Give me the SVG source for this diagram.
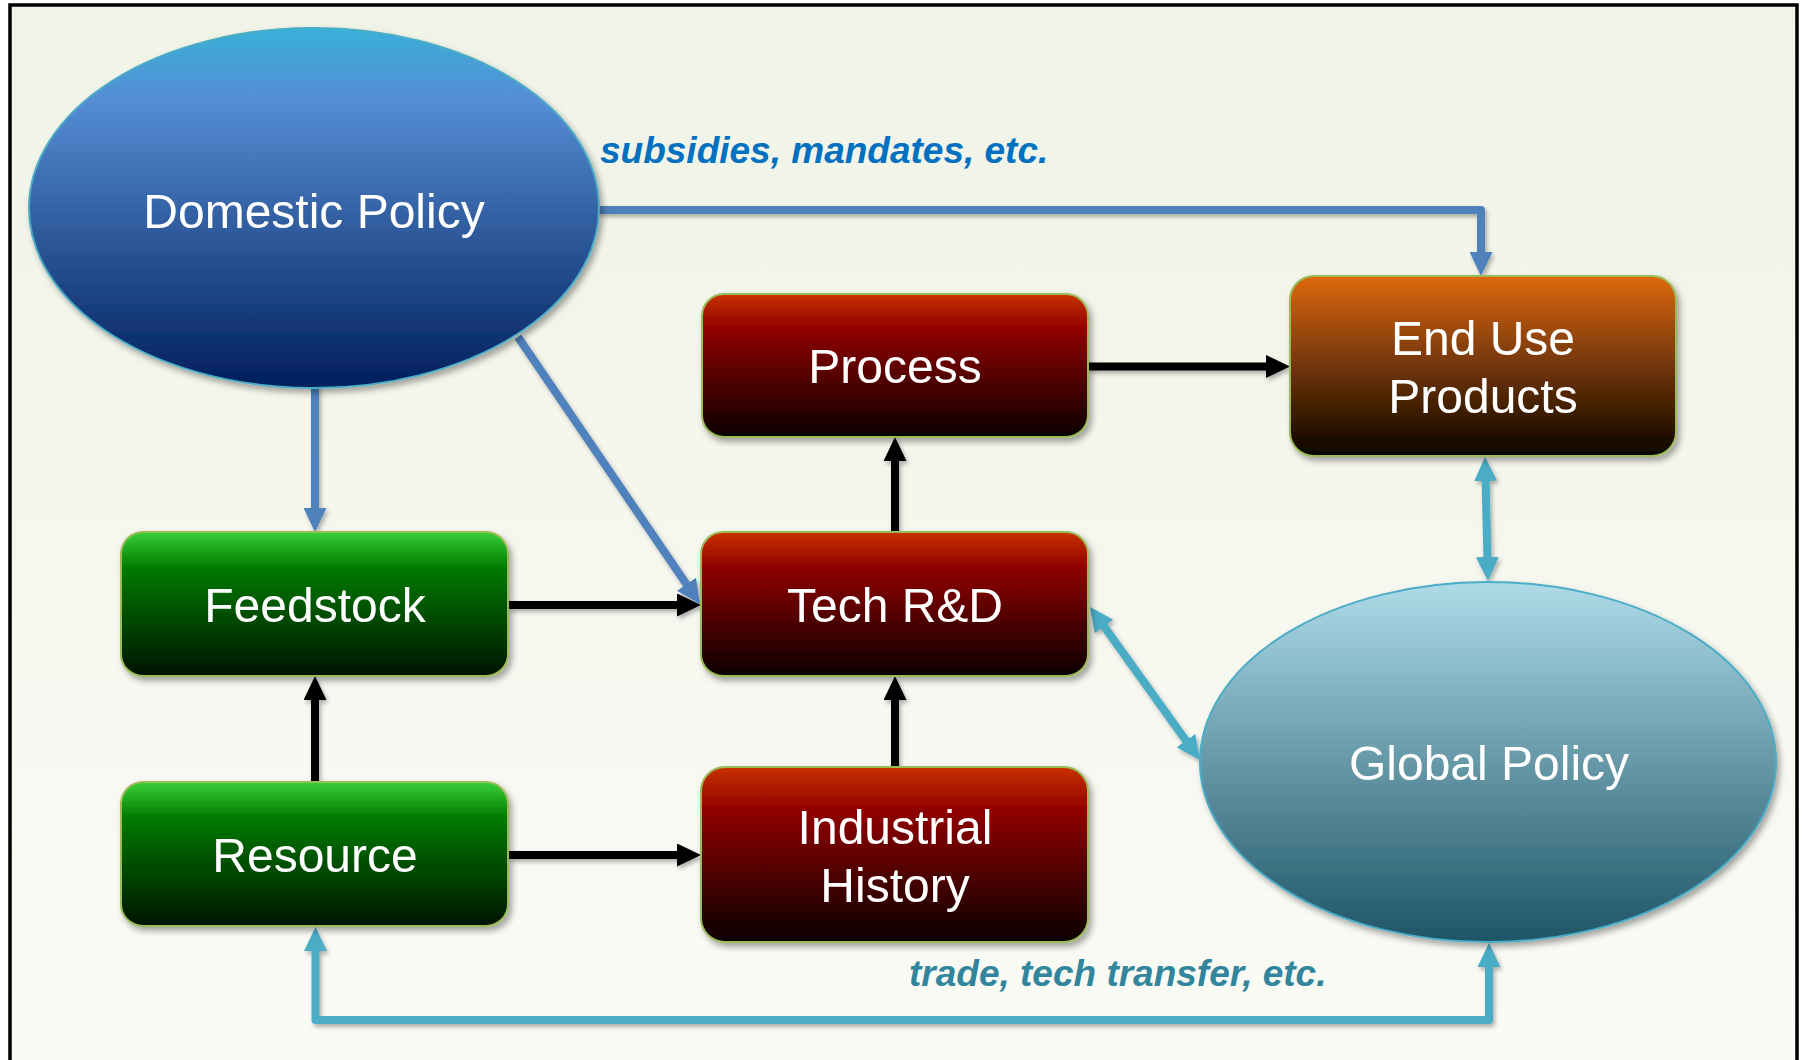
<svg xmlns="http://www.w3.org/2000/svg" width="1803" height="1060" viewBox="0 0 1803 1060">
<style>
.lbl{font-family:"Liberation Sans",Arial,sans-serif;font-size:48px;fill:#fff;text-anchor:middle}
.note{font-family:"Liberation Sans",Arial,sans-serif;font-size:37px;font-weight:bold;font-style:italic}
.box{stroke:#9bbb59;stroke-width:2}
.ell{stroke:#4bacc6;stroke-width:2}
.c{fill:none;stroke-width:8;stroke-linejoin:round;filter:url(#lsh)}
.blk{stroke:#000}
.blu{stroke:#4f81bd}
.cyn{stroke:#4bacc6}
</style>
<defs>
<linearGradient id="bg" x1="0" y1="0" x2="0" y2="1"><stop offset="0" stop-color="#f0f3e6"/><stop offset="1" stop-color="#fbfbf6"/></linearGradient>
<linearGradient id="red" x1="0" y1="0" x2="0" y2="1"><stop offset="0" stop-color="#c83200"/><stop offset="0.25" stop-color="#8f0000"/><stop offset="1" stop-color="#0a0000"/></linearGradient>
<linearGradient id="grn" x1="0" y1="0" x2="0" y2="1"><stop offset="0" stop-color="#38d038"/><stop offset="0.25" stop-color="#007a00"/><stop offset="1" stop-color="#001400"/></linearGradient>
<linearGradient id="org" x1="0" y1="0" x2="0" y2="1"><stop offset="0" stop-color="#e0680a"/><stop offset="0.3" stop-color="#9c4a0c"/><stop offset="1" stop-color="#0a0400"/></linearGradient>
<linearGradient id="dom" x1="0" y1="0" x2="0" y2="1"><stop offset="0" stop-color="#38b0d8"/><stop offset="0.2" stop-color="#558dd4"/><stop offset="1" stop-color="#011f5c"/></linearGradient>
<linearGradient id="glo" x1="0" y1="0" x2="0" y2="1"><stop offset="0" stop-color="#aedbe8"/><stop offset="1" stop-color="#1e5567"/></linearGradient>
<filter id="sh" x="-10%" y="-10%" width="120%" height="130%"><feDropShadow dx="3" dy="4" stdDeviation="3" flood-color="#000" flood-opacity="0.35"/></filter>
<filter id="lsh" x="-5%" y="-5%" width="110%" height="110%" filterUnits="userSpaceOnUse"><feDropShadow dx="2" dy="3" stdDeviation="2" flood-color="#000" flood-opacity="0.3"/></filter>
<marker id="ak" markerUnits="userSpaceOnUse" markerWidth="24" markerHeight="23" refX="4" refY="11.5" orient="auto-start-reverse"><path d="M0,0 L24,11.5 L0,23 Z" fill="#000"/></marker>
<marker id="ab" markerUnits="userSpaceOnUse" markerWidth="24" markerHeight="23" refX="4" refY="11.5" orient="auto-start-reverse"><path d="M0,0 L24,11.5 L0,23 Z" fill="#4f81bd"/></marker>
<marker id="ac" markerUnits="userSpaceOnUse" markerWidth="24" markerHeight="23" refX="4" refY="11.5" orient="auto-start-reverse"><path d="M0,0 L24,11.5 L0,23 Z" fill="#4bacc6"/></marker>
</defs>
<rect x="0" y="0" width="1803" height="1060" fill="#fff"/>
<rect x="10" y="5" width="1787" height="1070" fill="url(#bg)" stroke="#000" stroke-width="3.5"/>

<g id="connectors">
<path class="c blu" d="M598,210 H1481 V256" marker-end="url(#ab)"/>
<path class="c blu" d="M315,386 V512" marker-end="url(#ab)"/>
<path class="c blu" d="M518,337 L688.7,587.5" marker-end="url(#ab)"/>
<path class="c blk" d="M1088,366.5 H1270" marker-end="url(#ak)"/>
<path class="c blk" d="M895,532 V457" marker-end="url(#ak)"/>
<path class="c blk" d="M508,605 H681" marker-end="url(#ak)"/>
<path class="c blk" d="M315,782 V696" marker-end="url(#ak)"/>
<path class="c blk" d="M895,767 V696" marker-end="url(#ak)"/>
<path class="c blk" d="M508,855 H681" marker-end="url(#ak)"/>
<path class="c cyn" d="M1485.5,477 L1487.5,561" marker-start="url(#ac)" marker-end="url(#ac)"/>
<path class="c cyn" d="M1101.7,623.2 L1188.3,743.8" marker-start="url(#ac)" marker-end="url(#ac)"/>
<path class="c cyn" d="M315.5,947 V1020 H1489 V963" marker-start="url(#ac)" marker-end="url(#ac)"/>
<text class="note" x="600" y="163" fill="#0070c0">subsidies, mandates, etc.</text>
<text class="note" x="909" y="986" fill="#31859c">trade, tech transfer, etc.</text>
</g>

<g id="domestic-policy" filter="url(#sh)">
<ellipse class="ell" cx="314" cy="208" rx="285" ry="180" fill="url(#dom)"/>
<text class="lbl" x="314" y="228">Domestic Policy</text>
</g>
<g id="global-policy" filter="url(#sh)">
<ellipse class="ell" cx="1488" cy="762" rx="288" ry="180" fill="url(#glo)"/>
<text class="lbl" x="1489" y="780">Global Policy</text>
</g>
<g id="process" filter="url(#sh)">
<rect class="box" x="702" y="294" width="386" height="143" rx="22" fill="url(#red)"/>
<text class="lbl" x="895" y="383">Process</text>
</g>
<g id="end-use-products" filter="url(#sh)">
<rect class="box" x="1290" y="276" width="386" height="180" rx="24" fill="url(#org)"/>
<text class="lbl" x="1483" y="355">End Use</text>
<text class="lbl" x="1483" y="413">Products</text>
</g>
<g id="feedstock" filter="url(#sh)">
<rect class="box" x="121" y="532" width="387" height="144" rx="22" fill="url(#grn)"/>
<text class="lbl" x="315" y="622">Feedstock</text>
</g>
<g id="tech-rd" filter="url(#sh)">
<rect class="box" x="701" y="532" width="387" height="144" rx="22" fill="url(#red)"/>
<text class="lbl" x="895" y="622">Tech R&amp;D</text>
</g>
<g id="resource" filter="url(#sh)">
<rect class="box" x="121" y="782" width="387" height="144" rx="22" fill="url(#grn)"/>
<text class="lbl" x="315" y="872">Resource</text>
</g>
<g id="industrial-history" filter="url(#sh)">
<rect class="box" x="701" y="767" width="387" height="175" rx="24" fill="url(#red)"/>
<text class="lbl" x="895" y="844">Industrial</text>
<text class="lbl" x="895" y="902">History</text>
</g>
</svg>
